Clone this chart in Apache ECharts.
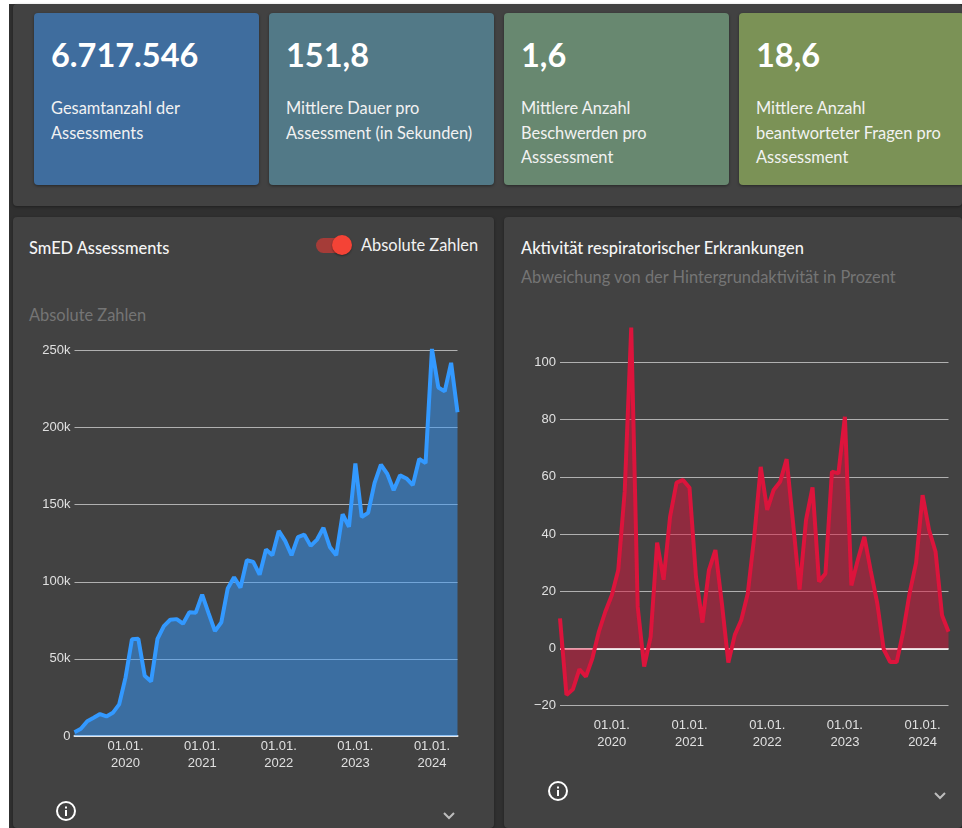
<!DOCTYPE html>
<html>
<head>
<meta charset="utf-8">
<script src="https://cdn.jsdelivr.net/npm/echarts@6/dist/echarts.min.js"></script>
<style>
  html, body { margin: 0; padding: 0; background: #fff; overflow: hidden; }
  body { width: 962px; height: 828px; position: relative; font-family: Lato, sans-serif; }
  .page { position: absolute; left: 9px; top: 4px; width: 953px; height: 824px; background: #303030; }
  .panel { position: absolute; background: #424242; border-radius: 4px; box-shadow: 0 1px 3px rgba(0,0,0,.35); }
  .card { position: absolute; top: 13px; width: 225px; height: 172px; border-radius: 4px; color: #fff; box-shadow: 0 1px 3px rgba(0,0,0,.4); }
  .card b { position: absolute; left: 17px; top: 22px; font-size: 32.5px; line-height: 40px; font-weight: 700; }
  .card span { position: absolute; left: 17px; top: 83px; width: 205px; font-size: 16.4px; line-height: 24.5px; color: #f2f2f2; }
  .title { position: absolute; font-size: 16.4px; line-height: 20px; font-weight: 500; color: #f5f5f5; }
  .sub { position: absolute; font-size: 16.4px; line-height: 20px; color: #757575; }
  .chart { position: absolute; }
  .track { position: absolute; left: 316px; top: 238px; width: 34px; height: 15px; border-radius: 8px; background: #a53c38; }
  .knob { position: absolute; left: 332px; top: 235px; width: 20px; height: 20px; border-radius: 50%; background: #f44336; box-shadow: 0 1px 2px rgba(0,0,0,.4); }
  svg { position: absolute; }
</style>
</head>
<body>
<div class="page"></div>
<div class="panel" style="left:13px;top:4px;width:949px;height:202px"></div>
<div class="panel" style="left:13px;top:217px;width:481px;height:611px"></div>
<div class="panel" style="left:504px;top:217px;width:458px;height:611px"></div>
<div id="cards"></div>

<div class="title" style="left:29px;top:237.5px">SmED Assessments</div>
<div class="track"></div><div class="knob"></div>
<div class="title" style="left:361px;top:235px;color:#f2f2f2;font-weight:400">Absolute Zahlen</div>
<div class="sub" style="left:29px;top:305px">Absolute Zahlen</div>
<div class="title" style="left:521px;top:237.5px">Aktivität respiratorischer Erkrankungen</div>
<div class="sub" style="left:521px;top:266.5px">Abweichung von der Hintergrundaktivität in Prozent</div>

<div class="chart" id="chartLeft" style="left:13px;top:320px;width:481px;height:460px"></div>
<div class="chart" id="chartRight" style="left:504px;top:320px;width:458px;height:440px"></div>

<svg style="left:55px;top:800px" width="22" height="22" viewBox="0 0 22 22"><circle cx="11" cy="11" r="9" fill="none" stroke="#fff" stroke-width="2"/><rect x="10" y="10" width="2" height="6" fill="#fff"/><rect x="10" y="6.5" width="2" height="2" fill="#fff"/></svg>
<svg style="left:547px;top:780px" width="22" height="22" viewBox="0 0 22 22"><circle cx="11" cy="11" r="9" fill="none" stroke="#fff" stroke-width="2"/><rect x="10" y="10" width="2" height="6" fill="#fff"/><rect x="10" y="6.5" width="2" height="2" fill="#fff"/></svg>
<svg style="left:441px;top:810px" width="16" height="12" viewBox="0 0 16 12"><path d="M3 3 L8 8 L13 3" fill="none" stroke="#bdbdbd" stroke-width="2"/></svg>
<svg style="left:932px;top:790px" width="16" height="12" viewBox="0 0 16 12"><path d="M3 3 L8 8 L13 3" fill="none" stroke="#bdbdbd" stroke-width="2"/></svg>

<script>
var cardValues = ['6.717.546', '151,8', '1,6', '18,6']
var cardLabels = [
  'Gesamtanzahl der<br>Assessments',
  'Mittlere Dauer pro<br>Assessment (in Sekunden)',
  'Mittlere Anzahl<br>Beschwerden pro<br>Asssessment',
  'Mittlere Anzahl<br>beantworteter Fragen pro<br>Asssessment'
]
var cardColors = ['#3f6d9e', '#527987', '#688870', '#7b9256']
var cardLefts = [34, 269, 504, 739]

var months = [
  '2019-05', '2019-06', '2019-07', '2019-08', '2019-09', '2019-10', '2019-11', '2019-12',
  '2020-01', '2020-02', '2020-03', '2020-04', '2020-05', '2020-06', '2020-07', '2020-08', '2020-09', '2020-10', '2020-11', '2020-12',
  '2021-01', '2021-02', '2021-03', '2021-04', '2021-05', '2021-06', '2021-07', '2021-08', '2021-09', '2021-10', '2021-11', '2021-12',
  '2022-01', '2022-02', '2022-03', '2022-04', '2022-05', '2022-06', '2022-07', '2022-08', '2022-09', '2022-10', '2022-11', '2022-12',
  '2023-01', '2023-02', '2023-03', '2023-04', '2023-05', '2023-06', '2023-07', '2023-08', '2023-09', '2023-10', '2023-11', '2023-12',
  '2024-01', '2024-02', '2024-03', '2024-04', '2024-05'
]

var assessments = [
  2500, 4700, 9600, 11800, 14200, 12700, 15000, 20500,
  38000, 62700, 63000, 39000, 35400, 63000, 71300, 75400, 75800, 72800, 80200, 80000,
  91700, 79700, 68000, 73700, 95600, 103000, 96200, 114000, 112900, 104600, 120900, 117200,
  133000, 126500, 117200, 129000, 130600, 123300, 127400, 135000, 122600, 117200, 143800, 135600,
  176800, 142000, 144700, 164000, 176000, 170000, 159400, 169000, 167000, 162700, 179700, 177000,
  251000, 226000, 223500, 242000, 210000
]
var respiratory = [
  10.5, -16.3, -14.3, -7.3, -9.9, -3.5, 5.8, 12.8,
  18.6, 27.4, 55, 112.2, 14.5, -6.4, 4, 37, 24, 46, 58, 58.9,
  56.2, 25, 9, 27.4, 34.4, 15.7, -5, 4.7, 9.9, 19.2, 39, 63.5,
  48.4, 55.4, 58.3, 66.2, 43.7, 20.6, 44.9, 56.3, 23.3, 26.2, 61.8, 61.2,
  81, 22, 31, 39, 27, 15.7, -0.4, -4.8, -4.8, 5.8, 19.3, 30,
  53.6, 41.4, 33.8, 11.6, 5.8
]

document.getElementById('cards').innerHTML = cardValues.map(function (v, i) {
  return '<div class="card" style="left:' + cardLefts[i] + 'px;background:' + cardColors[i] + '"><b>' + v + '</b><span>' + cardLabels[i] + '</span></div>'
}).join('')

function lineOption(data, color, fill, grid, yMin, yMax, yStep, yFormat, zeroLine, xLabelMargin) {
  var series = {
    type: 'line',
    data: data,
    symbol: 'none',
    clip: false,
    z: 3,
    lineStyle: { color: color, width: 4 },
    areaStyle: { color: fill, opacity: 1, origin: 0 }
  }
  if (zeroLine) {
    series.markLine = {
      silent: true,
      symbol: 'none',
      z: 1,
      label: { show: false },
      lineStyle: { color: '#eeeeee', width: 2, type: 'solid' },
      data: [{ yAxis: 0 }]
    }
  }
  return {
    animation: false,
    textStyle: { fontFamily: '"Liberation Sans", Arial, sans-serif' },
    grid: grid,
    xAxis: {
      type: 'category',
      data: months,
      boundaryGap: false,
      axisLine: { show: !zeroLine, onZero: false, lineStyle: { color: '#e6e6e6', width: 2 } },
      axisTick: { show: false },
      splitLine: { show: false },
      axisLabel: {
        color: '#e0e0e0',
        fontSize: 13,
        lineHeight: 17,
        margin: xLabelMargin,
        interval: function (i, name) { return name.slice(5) === '01' },
        formatter: function (name) { return '01.01.\n' + name.slice(0, 4) }
      }
    },
    yAxis: {
      type: 'value',
      min: yMin,
      max: yMax,
      interval: yStep,
      axisLine: { show: false },
      axisTick: { show: false },
      axisLabel: { color: '#e0e0e0', fontSize: 13, margin: 4, padding: [2, 0, 0, 0], formatter: yFormat },
      splitLine: { lineStyle: { color: '#b0b0b0', width: 1 } }
    },
    series: [series]
  }
}

var chartLeft = echarts.init(document.getElementById('chartLeft'))
chartLeft.setOption(lineOption(
  assessments, '#3399ff', 'rgba(51,153,255,0.5)',
  { left: 61.5, right: 36.5, top: 30.5, height: 385.5 },
  0, 250000, 50000,
  function (v) { return v === 0 ? '0' : v / 1000 + 'k' },
  false, 2
))

var chartRight = echarts.init(document.getElementById('chartRight'))
chartRight.setOption(lineOption(
  respiratory, '#dc143c', 'rgba(220,20,60,0.5)',
  { left: 56, right: 13.5, top: 42.5, height: 343 },
  -20, 100, 20,
  function (v) { return String(v).replace('-', '\u2212') },
  true, 11
))
</script>
</body>
</html>
